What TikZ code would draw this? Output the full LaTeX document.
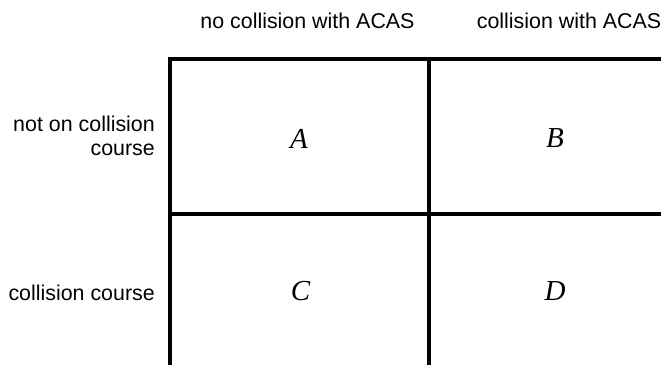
\documentclass[tikz,border=0pt]{standalone}
\usepackage{fontspec}
\setmainfont{Liberation Sans}
\newfontfamily\cellfont{Liberation Serif}

\begin{document}
\begin{tikzpicture}
  [x=1pt,y=-1pt,every node/.style={inner sep=0pt,font=\fontsize{21.4}{23.5}\selectfont},
   cell/.style={font=\fontsize{29}{32}\selectfont\cellfont\itshape}]
  \useasboundingbox (0,0) rectangle (661,364);

  \coordinate (tl) at (170,59);
  \coordinate (tm) at (429,59);
  \coordinate (tr) at (664,59);
  \coordinate (ml) at (170,214);
  \coordinate (mr) at (664,214);
  \coordinate (bl) at (170,367);
  \coordinate (bm) at (429,367);

  \node[anchor=base] (h1) at (307.5,28) {no collision with ACAS};
  \node[anchor=base] (h2) at (569,28) {collision with ACAS};
  \node[anchor=base east,align=right] (r1) at (155,155) {not on collision\\course};
  \node[anchor=base east] (r2) at (155,300) {collision course};

  \node[cell] (a) at (299,138.5) {A};
  \node[cell] (b) at (555,138) {B};
  \node[cell] (c) at (300.5,291.5) {C};
  \node[cell] (d) at (555,291.3) {D};

  \draw[line width=4.3pt] (tr) -- (tl) -- (bl);
  \draw[line width=4.3pt] (tm) -- (bm);
  \draw[line width=4.3pt] (ml) -- (mr);
\end{tikzpicture}
\end{document}
